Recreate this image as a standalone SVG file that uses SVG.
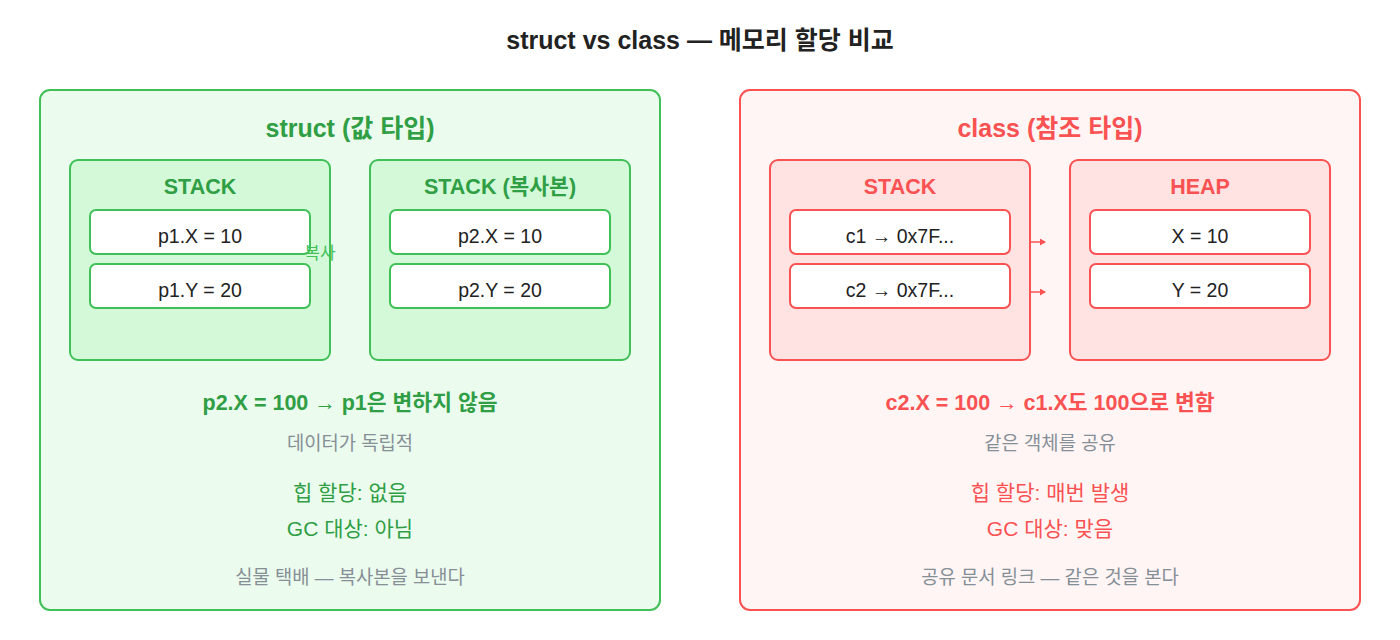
<svg xmlns="http://www.w3.org/2000/svg" width="1400" height="640" viewBox="0 0 1400 640">
<defs>
<style>
text{font-family:"Liberation Sans","Noto Sans CJK KR",sans-serif;text-anchor:middle;dominant-baseline:central}
.title{font-size:25px;font-weight:bold;fill:#222}
.ptitle{font-size:25px;font-weight:bold}
.htitle{font-size:21.5px;font-weight:bold}
.btitle{font-size:21.5px;font-weight:bold}
.item{font-size:19.5px;fill:#222}
.sub{font-size:18.8px;fill:#868e96}
.stat{font-size:21px}
.g{fill:#2f9e44}
.r{fill:#fa5252}
.gpanel{fill:#ebfbee;stroke:#40c057;stroke-width:2}
.rpanel{fill:#fff5f5;stroke:#fa5252;stroke-width:2}
.gbox{fill:#d3f9d8;stroke:#40c057;stroke-width:2}
.rbox{fill:#ffe3e3;stroke:#fa5252;stroke-width:2}
.gitem{fill:#fff;stroke:#40c057;stroke-width:2}
.ritem{fill:#fff;stroke:#fa5252;stroke-width:2}
.conn{stroke:#fa5252;stroke-width:1.5;fill:none}
</style>
<marker id="ah" markerWidth="6" markerHeight="7" refX="5" refY="3.5" orient="auto" markerUnits="userSpaceOnUse">
<path d="M0,0 L6,3.5 L0,7 Z" fill="#fa5252"/>
</marker>
</defs>
<rect width="1400" height="640" fill="#fff"/>
<text class="title" x="700" y="40">struct vs class — 메모리 할당 비교</text>

<g id="struct-panel">
<rect class="gpanel" x="40" y="90" width="620" height="520" rx="10"/>
<text class="ptitle g" x="350" y="128">struct (값 타입)</text>
<text class="btitle g" x="350" y="403">p2.X = 100 → p1은 변하지 않음</text>
<text class="sub" x="350" y="443">데이터가 독립적</text>
<text class="stat g" x="350" y="492">힙 할당: 없음</text>
<text class="stat g" x="350" y="528">GC 대상: 아님</text>
<text class="sub" x="350" y="577">실물 택배 — 복사본을 보낸다</text>
</g>
<g id="struct-stack1">
<rect class="gbox" x="70" y="160" width="260" height="200" rx="8"/>
<text class="htitle g" x="200" y="187">STACK</text>
</g>
<g id="p1x"><rect class="gitem" x="90" y="210" width="220" height="44" rx="6"/><text class="item" x="200" y="236">p1.X = 10</text></g>
<g id="p1y"><rect class="gitem" x="90" y="264" width="220" height="44" rx="6"/><text class="item" x="200" y="290">p1.Y = 20</text></g>
<g id="struct-stack2">
<rect class="gbox" x="370" y="160" width="260" height="200" rx="8"/>
<text class="htitle g" x="500" y="187">STACK (복사본)</text>
</g>
<g id="p2x"><rect class="gitem" x="390" y="210" width="220" height="44" rx="6"/><text class="item" x="500" y="236">p2.X = 10</text></g>
<g id="p2y"><rect class="gitem" x="390" y="264" width="220" height="44" rx="6"/><text class="item" x="500" y="290">p2.Y = 20</text></g>

<g id="class-panel">
<rect class="rpanel" x="740" y="90" width="620" height="520" rx="10"/>
<text class="ptitle r" x="1050" y="128">class (참조 타입)</text>
<text class="btitle r" x="1050" y="403">c2.X = 100 → c1.X도 100으로 변함</text>
<text class="sub" x="1050" y="443">같은 객체를 공유</text>
<text class="stat r" x="1050" y="492">힙 할당: 매번 발생</text>
<text class="stat r" x="1050" y="528">GC 대상: 맞음</text>
<text class="sub" x="1050" y="577">공유 문서 링크 — 같은 것을 본다</text>
</g>
<g id="class-stack">
<rect class="rbox" x="770" y="160" width="260" height="200" rx="8"/>
<text class="htitle r" x="900" y="187">STACK</text>
</g>
<g id="c1"><rect class="ritem" x="790" y="210" width="220" height="44" rx="6"/><text class="item" x="900" y="236">c1 → 0x7F...</text></g>
<g id="c2"><rect class="ritem" x="790" y="264" width="220" height="44" rx="6"/><text class="item" x="900" y="290">c2 → 0x7F...</text></g>
<g id="class-heap">
<rect class="rbox" x="1070" y="160" width="260" height="200" rx="8"/>
<text class="htitle r" x="1200" y="187">HEAP</text>
</g>
<g id="hx"><rect class="ritem" x="1090" y="210" width="220" height="44" rx="6"/><text class="item" x="1200" y="236">X = 10</text></g>
<g id="hy"><rect class="ritem" x="1090" y="264" width="220" height="44" rx="6"/><text class="item" x="1200" y="290">Y = 20</text></g>

<g id="connectors">
<text x="320" y="253" style="font-size:17px;fill:#40c057">복사</text>
<line class="conn" x1="1030" y1="242" x2="1045" y2="242" marker-end="url(#ah)"/>
<line class="conn" x1="1030" y1="292" x2="1045" y2="292" marker-end="url(#ah)"/>
</g>
</svg>
